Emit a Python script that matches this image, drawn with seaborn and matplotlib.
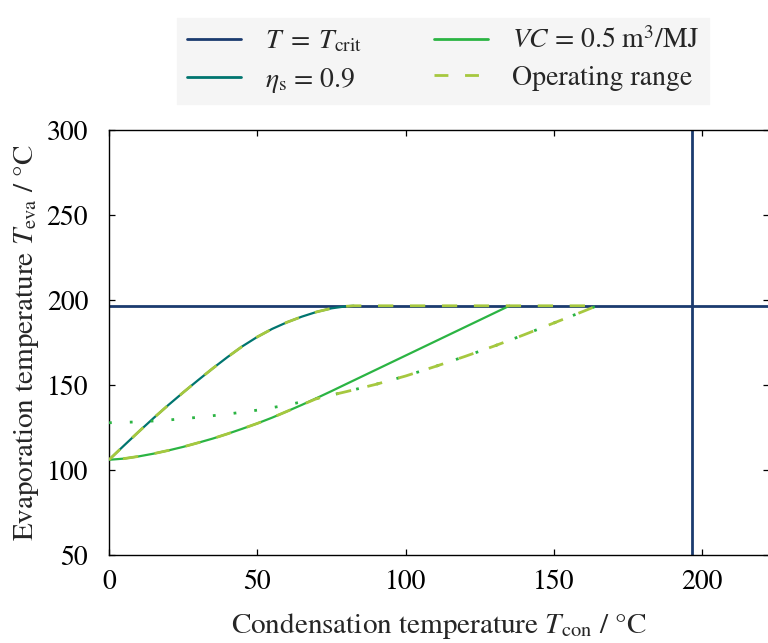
import numpy as np
import pandas as pd
import matplotlib
matplotlib.use("Agg")
import matplotlib.pyplot as plt
import seaborn as sns

# Critical temperature of the working fluid (°C)
T_CRIT = 196.6

# Isentropic-efficiency limit (eta_s = 0.9)
eta_x = [0, 5, 10, 15, 20, 25, 30, 35, 40, 45, 50, 55, 60, 65, 70, 75, 80, 82.5]
eta_y = [106, 114.3, 122.5, 130.5, 138.2, 145.6, 152.8, 159.8, 166.5, 172.8,
         178.3, 183.0, 186.9, 190.2, 193.0, 195.1, 196.3, 196.6]

# Volumetric-capacity limit (VC = 0.5 m3/MJ)
vc_x = [0, 5, 10, 15, 20, 25, 30, 35, 40, 45, 50, 55, 60, 65, 70, 75, 80, 135]
vc_y = [106, 106.7, 108, 109.6, 111.5, 113.6, 116, 118.5, 121.3, 124.3,
        127.4, 130.8, 134.5, 138.3, 142.3, 146.4, 150.6, 196.6]

# Additional lower limit (dotted)
lim_x = [0, 10, 20, 30, 40, 50, 60, 70, 80, 90, 100, 110, 120, 130, 140, 150, 160, 164.5]
lim_y = [127.8, 128.3, 129.4, 131.0, 132.9, 135.2, 138.2, 142.0, 146.1, 150.4,
         155.3, 160.9, 166.8, 173.0, 179.6, 186.5, 193.4, 196.6]

C_NAVY = "#1b3b6f"
C_TEAL = "#00756f"
C_GREEN = "#2bb443"
C_LIME = "#a6c83f"
FS = 20
FS_LABEL = 21

sns.set_theme(style="ticks")
plt.rcParams.update({
    "font.family": ["STIXGeneral", "DejaVu Serif"],
    "mathtext.fontset": "stix",
    "font.size": FS,
    "axes.linewidth": 1.0,
    "xtick.direction": "in",
    "ytick.direction": "in",
    "xtick.major.size": 4,
    "ytick.major.size": 4,
    "xtick.major.width": 0.9,
    "ytick.major.width": 0.9,
    "xtick.color": "black",
    "ytick.color": "black",
    "axes.edgecolor": "black",
})

W, H = 768, 643
fig = plt.figure(figsize=(W / 100, H / 100), dpi=100)
left, right, top, bottom = 109, 769, 130, 555
ax = fig.add_axes([left / W, 1 - bottom / H, (right - left) / W, (bottom - top) / H])

# Operating range: upper branch along eta_s, then back along the lower envelope
grid = np.array(sorted(set([x for x in vc_x if x <= 80] + lim_x)))
lower = np.minimum(np.interp(grid, vc_x, vc_y), np.interp(grid, lim_x, lim_y))
op = pd.DataFrame({
    "x": np.concatenate([eta_x, grid[::-1]]),
    "y": np.concatenate([eta_y, lower[::-1]]),
})

ax.axhline(T_CRIT, color=C_NAVY, lw=2.0, zorder=2)
ax.axvline(T_CRIT, color=C_NAVY, lw=2.0, zorder=2)

sns.lineplot(x=eta_x, y=eta_y, ax=ax, color=C_TEAL, lw=1.6, estimator=None, sort=False, zorder=3)
sns.lineplot(x=vc_x, y=vc_y, ax=ax, color=C_GREEN, lw=1.6, estimator=None, sort=False, zorder=3)
sns.lineplot(x=lim_x, y=lim_y, ax=ax, color=C_GREEN, lw=2.0, estimator=None, sort=False, zorder=3,
             linestyle=(0, (1.0, 6.5)))
sns.lineplot(data=op, x="x", y="y", ax=ax, color=C_LIME, lw=2.0, estimator=None, sort=False, zorder=4,
             linestyle=(0, (5.5, 6.0)))

ax.set_xlim(0, 222.5)
ax.set_ylim(50, 300)
ax.set_xticks([0, 50, 100, 150, 200])
ax.set_yticks([50, 100, 150, 200, 250, 300])
ax.tick_params(axis="x", top=True, labelsize=FS, pad=11)
ax.tick_params(axis="y", right=True, labelsize=FS, pad=15)
ax.set_xlabel(r"Condensation temperature $T_\mathrm{con}$ / °C", fontsize=FS_LABEL, labelpad=11)
ax.set_ylabel(r"Evaporation temperature $T_\mathrm{eva}$ / °C", fontsize=FS_LABEL, labelpad=4)

handles = [
    plt.Line2D([], [], color=C_NAVY, lw=2.0),
    plt.Line2D([], [], color=C_TEAL, lw=2.0),
    plt.Line2D([], [], color=C_GREEN, lw=2.0),
    plt.Line2D([], [], color=C_LIME, lw=2.0, linestyle=(0, (5, 6))),
]
labels = [
    r"$T\;=\;T_\mathrm{crit}$",
    r"$\eta_\mathrm{s}$ = 0.9",
    r"$VC$ = 0.5 m$^3$/MJ",
    "Operating range",
]
fig.legend(handles, labels, loc="center", bbox_to_anchor=(443 / W, 1 - 61 / H),
           ncol=2, frameon=True, fancybox=False, facecolor="#f5f5f5",
           edgecolor="#f5f5f5", framealpha=1, fontsize=FS,
           handlelength=1.95, columnspacing=2.6, handletextpad=0.85,
           borderpad=0.35, labelspacing=0.4, borderaxespad=0.0)

fig.savefig("out.png", dpi=100)
